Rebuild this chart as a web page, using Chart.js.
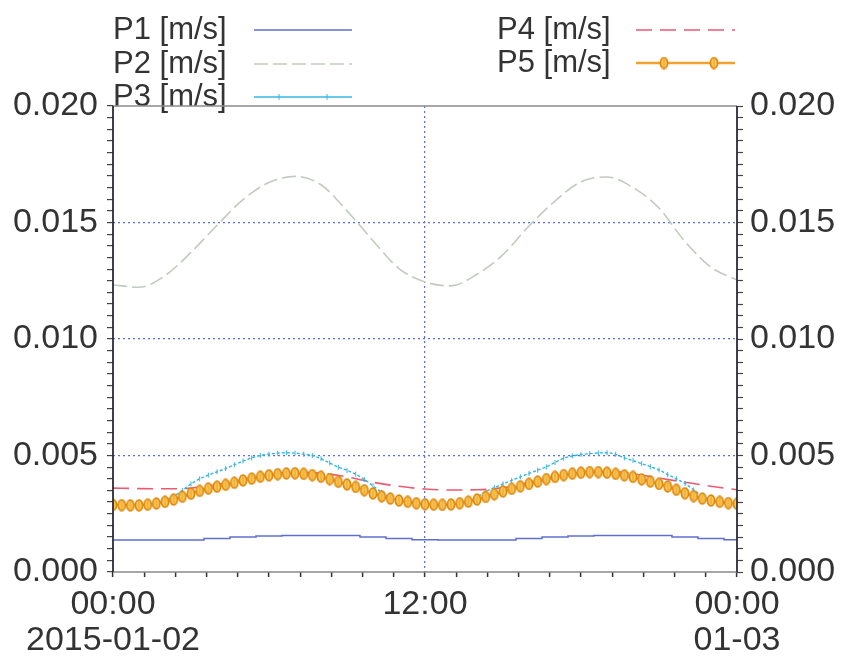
<!DOCTYPE html>
<html>
<head>
<meta charset="utf-8">
<script src="https://cdn.jsdelivr.net/npm/chart.js@4/dist/chart.umd.min.js"></script>
<style>
  html, body { margin: 0; padding: 0; background: #ffffff; }
  canvas { display: block; }
</style>
</head>
<body>
<canvas id="c" width="842" height="661"></canvas>
<script>
// ---- data (hours since 2015-01-02 00:00) ----
const seriesLabels = ['P1 [m/s]', 'P2 [m/s]', 'P3 [m/s]', 'P4 [m/s]', 'P5 [m/s]'];
const xTickLabels = { 0: ['00:00', '2015-01-02'], 12: ['12:00', ''], 24: ['00:00', '01-03'] };
const yTickLabels = ['0.000', '0.005', '0.010', '0.015', '0.020'];

const hoursHourly = [0,1,2,3,4,5,6,7,8,9,10,11,12,13,14,15,16,17,18,19,20,21,22,23,24];
const hours20min = Array.from({length: 73}, (_, i) => i / 3);

const p1 = [0.00137,0.00137,0.00137,0.00137,0.00144,0.00150,0.00154,0.00157,0.00157,0.00157,0.00150,0.00144,0.00138,
            0.00137,0.00137,0.00137,0.00144,0.00150,0.00154,0.00157,0.00157,0.00157,0.00150,0.00144,0.00138];
const p2 = [0.01232,0.01222,0.01272,0.01372,0.01488,0.01598,0.01672,0.01698,0.01662,0.01550,0.01422,0.01302,0.01245,
            0.01228,0.01278,0.01362,0.01485,0.01592,0.01675,0.01695,0.01650,0.01562,0.01418,0.01308,0.01253];
const p4 = [0.00360,0.00358,0.00357,0.00360,0.00375,0.00398,0.00418,0.00428,0.00424,0.00408,0.00385,0.00368,0.00356,
            0.00352,0.00353,0.00362,0.00385,0.00410,0.00428,0.00432,0.00422,0.00403,0.00385,0.00368,0.00353];
const p3 = [0.00290,0.00289,0.00288,0.00289,0.00292,0.00298,0.00308,0.00325,0.00350,0.00378,0.00400,0.00416,
            0.00430,0.00444,0.00460,0.00476,0.00490,0.00500,0.00506,0.00510,0.00512,0.00510,0.00506,0.00500,
            0.00486,0.00468,0.00450,0.00436,0.00420,0.00397,0.00370,0.00342,0.00322,0.00309,0.00300,0.00294,
            0.00291,0.00289,0.00288,0.00290,0.00295,0.00305,0.00322,0.00345,0.00362,0.00378,0.00393,0.00408,
            0.00423,0.00437,0.00451,0.00470,0.00488,0.00498,0.00504,0.00508,0.00511,0.00512,0.00505,0.00490,
            0.00478,0.00465,0.00452,0.00438,0.00418,0.00400,0.00380,0.00352,0.00326,0.00310,0.00302,0.00297,
            0.00294];
const p5 = [0.00288,0.00287,0.00286,0.00286,0.00289,0.00294,0.00301,0.00311,0.00323,0.00336,0.00348,0.00358,
            0.00366,0.00374,0.00383,0.00393,0.00401,0.00409,0.00415,0.00420,0.00423,0.00424,0.00421,0.00416,
            0.00409,0.00399,0.00387,0.00376,0.00365,0.00351,0.00337,0.00325,0.00315,0.00307,0.00301,0.00295,
            0.00291,0.00289,0.00288,0.00290,0.00295,0.00302,0.00311,0.00322,0.00334,0.00346,0.00357,0.00368,
            0.00378,0.00388,0.00399,0.00408,0.00416,0.00422,0.00426,0.00429,0.00429,0.00426,0.00421,0.00415,
            0.00408,0.00398,0.00388,0.00378,0.00367,0.00353,0.00338,0.00326,0.00315,0.00307,0.00301,0.00296,
            0.00293];

// ---- styling ----
const FONT = "'Liberation Sans', Arial, sans-serif";
const TXT = '#333333';
const GRID = '#5a6ee0';
const C1 = '#5f6fcf', C2 = '#c2cbbf', C3 = '#38b6e0', C4 = '#ec5a72', C5 = '#f0a230';

function pts(xs, ys) { return ys.map((v, i) => ({x: xs[i], y: v})); }

// orange vertical-ellipse marker for P5
const mk = document.createElement('canvas');
mk.width = 10; mk.height = 13;
(function () {
  const g = mk.getContext('2d');
  g.beginPath(); g.ellipse(5, 6.5, 3.6, 5.3, 0, 0, Math.PI * 2);
  g.fillStyle = '#f9c85a'; g.fill();
  g.lineWidth = 1.7; g.strokeStyle = '#e0880a'; g.stroke();
  g.beginPath(); g.moveTo(5, 2.5); g.lineTo(5, 10.5);
  g.lineWidth = 1; g.strokeStyle = '#e8a030'; g.stroke();
})();

const isMult = (v, s) => Math.abs(v / s - Math.round(v / s)) < 1e-6;

const legendPlugin = {
  id: 'customLegend',
  beforeDraw(chart) {
    const ctx = chart.ctx;
    ctx.save();
    ctx.fillStyle = '#ffffff';
    ctx.fillRect(0, 0, chart.width, chart.height);
    const items = [
      {i: 0, tx: 113, lx1: 254, lx2: 352, y: 30},
      {i: 1, tx: 113, lx1: 254, lx2: 352, y: 64},
      {i: 2, tx: 113, lx1: 254, lx2: 352, y: 97},
      {i: 3, tx: 497, lx1: 636, lx2: 735, y: 30},
      {i: 4, tx: 497, lx1: 636, lx2: 735, y: 63}
    ];
    ctx.font = '31px ' + FONT;
    ctx.textBaseline = 'middle';
    ctx.textAlign = 'left';
    items.forEach(it => {
      const ds = chart.data.datasets[it.i];
      ctx.fillStyle = TXT;
      ctx.fillText(ds.label, it.tx, it.y);
      ctx.save();
      ctx.strokeStyle = ds.borderColor;
      ctx.lineWidth = ds.borderWidth;
      ctx.setLineDash(it.i === 2 ? [] : (ds.borderDash || []));
      ctx.beginPath(); ctx.moveTo(it.lx1, it.y); ctx.lineTo(it.lx2, it.y); ctx.stroke();
      ctx.restore();
      if (it.i === 2) {
        ctx.save(); ctx.strokeStyle = C3; ctx.lineWidth = 1;
        [279, 327].forEach(x => { ctx.beginPath(); ctx.moveTo(x, it.y - 3); ctx.lineTo(x, it.y + 3); ctx.stroke(); });
        ctx.restore();
      }
      if (it.i === 4) {
        [664, 714].forEach(x => ctx.drawImage(mk, x - 5, it.y - 6.5));
      }
    });
    ctx.restore();
  },
  afterDraw(chart) {
    const {left, right, top, bottom} = chart.chartArea;
    const ctx = chart.ctx;
    ctx.save();
    ctx.lineWidth = 1.5;
    ctx.strokeStyle = '#8a8a8a';
    ctx.beginPath(); ctx.moveTo(left, top); ctx.lineTo(right, top); ctx.stroke();
    ctx.beginPath(); ctx.moveTo(left, bottom); ctx.lineTo(right, bottom); ctx.stroke();
    ctx.strokeStyle = '#2a2a3a';
    ctx.lineWidth = 1.8;
    ctx.beginPath(); ctx.moveTo(left, top); ctx.lineTo(left, bottom); ctx.stroke();
    ctx.beginPath(); ctx.moveTo(right, top); ctx.lineTo(right, bottom); ctx.stroke();
    ctx.restore();
  }
};

const yTickCb = v => {
  if (!isMult(v, 0.005)) return '';
  return yTickLabels[Math.round(v / 0.005)];
};

new Chart(document.getElementById('c'), {
  type: 'line',
  data: {
    datasets: [
      {label: seriesLabels[0], data: pts(hoursHourly, p1), borderColor: C1, borderWidth: 1.5,
       pointRadius: 0, stepped: 'middle', order: 5},
      {label: seriesLabels[1], data: pts(hoursHourly, p2), borderColor: C2, borderWidth: 1.6,
       borderDash: [14, 5], pointRadius: 0, cubicInterpolationMode: 'monotone', order: 4},
      {label: seriesLabels[2], data: pts(hours20min, p3), borderColor: C3, borderWidth: 1.4,
       borderDash: [3, 2], pointStyle: 'line', pointRotation: 90, pointRadius: 2.5,
       pointBorderColor: C3, pointBorderWidth: 1, cubicInterpolationMode: 'monotone', order: 2},
      {label: seriesLabels[3], data: pts(hoursHourly, p4), borderColor: C4, borderWidth: 1.6,
       borderDash: [16, 8], pointRadius: 0, cubicInterpolationMode: 'monotone', order: 3},
      {label: seriesLabels[4], data: pts(hours20min, p5), borderColor: C5, borderWidth: 2.5,
       pointStyle: mk, pointRadius: 5, cubicInterpolationMode: 'monotone', order: 1}
    ]
  },
  options: {
    responsive: false,
    animation: false,
    devicePixelRatio: 1,
    layout: {padding: {top: 106, left: 0, right: 0, bottom: 0}},
    plugins: {legend: {display: false}, tooltip: {enabled: false}},
    scales: {
      x: {
        type: 'linear', min: 0, max: 24,
        afterFit(s) { s.height = 89; },
        ticks: {
          stepSize: 1.2, autoSkip: false, maxRotation: 0, minRotation: 0,
          padding: 10, color: TXT,
          font: {family: FONT, size: 34, lineHeight: 1.06},
          callback: v => {
            const k = Math.round(v);
            if (Math.abs(v - k) < 1e-6 && xTickLabels[k]) return xTickLabels[k];
            return '';
          }
        },
        grid: {
          color: c => (c.tick && Math.abs(c.tick.value - 12) < 1e-6) ? GRID : 'rgba(0,0,0,0)',
          lineWidth: 1.2, tickColor: '#333', tickLength: 5, tickWidth: 1.5, tickBorderDash: []
        },
        border: {display: false, dash: [2, 3]}
      },
      y: {
        type: 'linear', position: 'left', min: 0, max: 0.02,
        afterFit(s) { s.width = 113; },
        ticks: {stepSize: 0.0005, autoSkip: false, padding: 9, color: TXT,
                font: {family: FONT, size: 34}, callback: yTickCb},
        grid: {
          color: c => (c.tick && c.tick.value > 0.001 && c.tick.value < 0.019 && isMult(c.tick.value, 0.005)) ? GRID : 'rgba(0,0,0,0)',
          lineWidth: 1.2, tickColor: '#444', tickLength: 6, tickWidth: 1.2, tickBorderDash: []
        },
        border: {display: false, dash: [2, 3]}
      },
      y2: {
        type: 'linear', position: 'right', min: 0, max: 0.02,
        afterFit(s) { s.width = 105; },
        ticks: {stepSize: 0.0005, autoSkip: false, padding: 7, color: TXT,
                font: {family: FONT, size: 34}, callback: yTickCb},
        grid: {drawOnChartArea: false, tickColor: '#444', tickLength: 6, tickWidth: 1.2, tickBorderDash: []},
        border: {display: false}
      }
    }
  },
  plugins: [legendPlugin]
});
</script>
</body>
</html>
